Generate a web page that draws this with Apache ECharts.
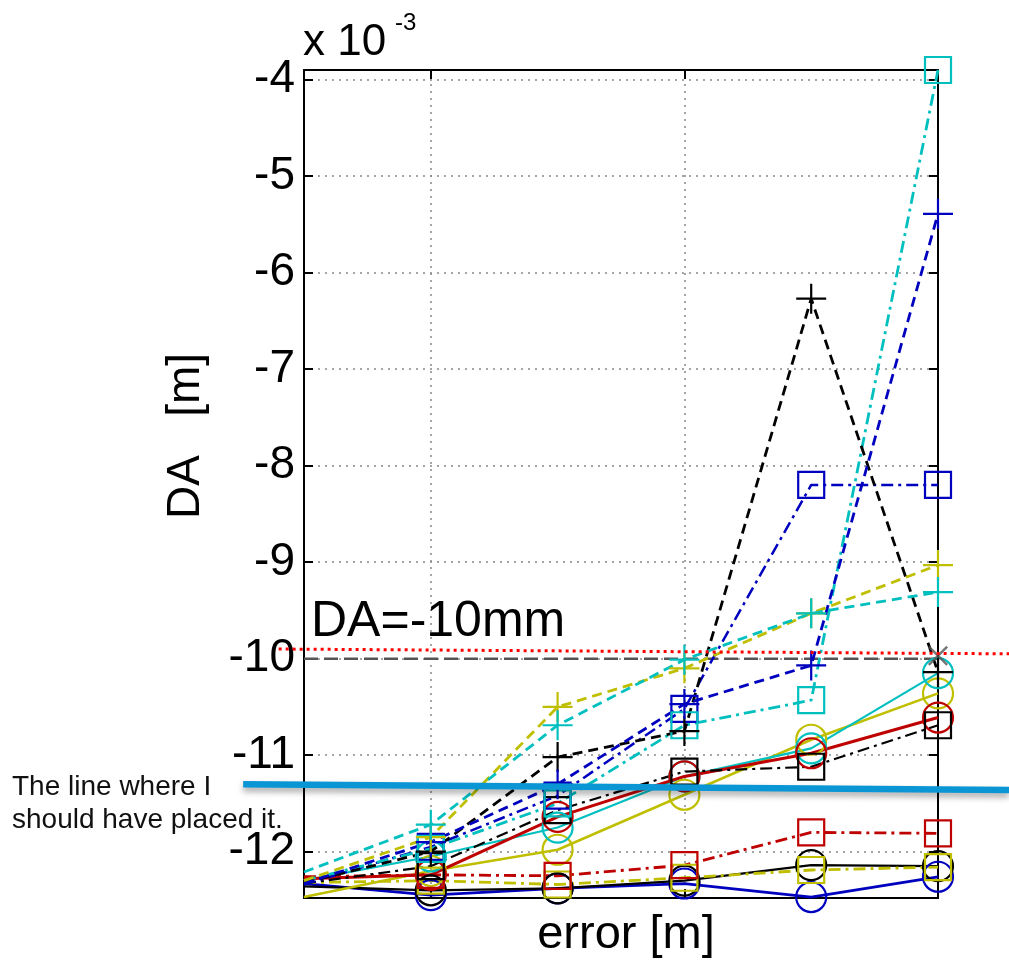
<!DOCTYPE html>
<html>
<head>
<meta charset="utf-8">
<script src="https://cdn.jsdelivr.net/npm/echarts@6/dist/echarts.min.js"></script>
<style>
  html, body { margin: 0; padding: 0; background: #fff; }
  #chart { width: 1009px; height: 960px; }
</style>
</head>
<body>
<div id="chart"></div>
<script>
// x positions (the first one sits on the left edge of the box)
const xCategories = ['0', '1', '2', '3', '4', '5'];
const yMin = -12.48;
const yMax = -3.9;

// solid lines, circle markers
const blueCircle  = [-12.33, -12.45, -12.38, -12.33, -12.47, -12.26];
const blackCircle = [-12.36, -12.40, -12.38, -12.30, -12.14, -12.15];
const redCircle   = [-12.28, -12.24, -11.64, -11.22, -10.98, -10.61];
const cyanCircle  = [-12.30, -12.05, -11.75, -11.22, -10.93, -10.15];
const oliveCircle = [-12.47, -12.20, -11.98, -11.41, -10.84, -10.36];

// dash-dot lines, square markers
const redSquare   = [-12.26, -12.24, -12.25, -12.14, -11.80, -11.81];
const oliveSquare = [-12.32, -12.30, -12.34, -12.27, -12.19, -12.16];
const blackSquare = [-12.33, -12.15, -11.57, -11.17, -11.12, -10.69];
const cyanSquare  = [-12.30, -11.97, -11.50, -10.69, -10.43, -3.90];
const blueSquare  = [-12.34, -11.95, -11.42, -10.52, -8.20, -8.20];

// dashed lines, plus markers
const blackPlus = [-12.32, -12.00, -11.02, -10.75, -6.27, -10.14];
const bluePlus  = [-12.33, -11.90, -11.30, -10.47, -10.07, -5.39];
const cyanPlus  = [-12.21, -11.72, -10.69, -10.01, -9.53, -9.31];
const olivePlus = [-12.30, -11.85, -10.50, -10.10, -9.53, -9.03];

// DA = -10 mm reference
const refLine = [-10, -10, -10, -10, -10, -10];
const refMark = [['5', -9.97]];

// overlays drawn on top of the figure (x in index units, y in 1e-3 m)
const redDotted = [[-0.2, -9.90], [5.56, -9.95]];
const blueTarget = [[-0.48, -11.30], [5.56, -11.36]];

const W = 1009;
const GRID = { left: 304, right: 71, top: 70, bottom: 62 };
const unit = (W - GRID.left - GRID.right) / (xCategories.length - 1);

const C = {
  blue: '#0000bf', black: '#000000', red: '#bf0000',
  cyan: '#00bfbf', olive: '#bfbf00'
};
const FONT = "'Liberation Sans', Arial, Helvetica, sans-serif";
const PLUS = 'path://M0,10L20,10M10,0L10,20';
const DASH = [10, 6];
const DASHDOT = [12, 5, 3, 5];

function hideFirst(vals) {
  return vals.map((v, i) => i === 0 ? { value: v, symbol: 'none' } : v);
}

function curve(vals, color, kind, width) {
  const marker = {
    circle: { symbol: 'circle', size: 30, type: 'solid' },
    square: { symbol: 'rect', size: 26, type: DASHDOT },
    plus: { symbol: PLUS, size: 30, type: DASH }
  }[kind];
  return {
    type: 'line',
    data: hideFirst(vals),
    symbol: marker.symbol,
    symbolSize: marker.size,
    showAllSymbol: true,
    clip: false,
    silent: true,
    z: 3,
    lineStyle: { color: color, width: width || 2.2, type: marker.type },
    itemStyle: { color: 'none', borderColor: color, borderWidth: 2.2 },
    emphasis: { disabled: true }
  };
}

const chart = echarts.init(document.getElementById('chart'));

const everyOther = (i) => i === 1 || i === 3;
const boxLine = { lineStyle: { color: '#000', width: 2 } };
const tick = { show: true, inside: true, length: 9, lineStyle: { color: '#000', width: 2 } };
const dotted = { color: '#888', width: 1.5, type: [2, 5] };

chart.setOption({
  animation: false,
  backgroundColor: '#fff',
  grid: [
    Object.assign({ outerBoundsMode: 'none' }, GRID),
    { left: 0, right: 0, top: GRID.top, bottom: GRID.bottom, outerBoundsMode: 'none' }
  ],
  xAxis: [
    {
      type: 'category', data: xCategories, boundaryGap: false,
      axisLine: boxLine,
      axisTick: Object.assign({ interval: everyOther }, tick),
      axisLabel: { show: false },
      splitLine: { show: true, interval: everyOther, lineStyle: dotted }
    },
    {
      type: 'category', data: xCategories, boundaryGap: false, position: 'top',
      axisLine: boxLine,
      axisTick: Object.assign({ interval: everyOther }, tick),
      axisLabel: { show: false },
      splitLine: { show: false }
    },
    {
      type: 'value', gridIndex: 1, show: false,
      min: -GRID.left / unit, max: xCategories.length - 1 + GRID.right / unit
    }
  ],
  yAxis: [
    {
      type: 'value', min: yMin, max: yMax, splitNumber: 9,
      minInterval: 1, maxInterval: 1,
      axisLine: Object.assign({ show: true }, boxLine),
      axisTick: tick,
      axisLabel: { fontFamily: FONT, fontSize: 46, color: '#000', margin: 9,
        showMinLabel: false, showMaxLabel: false,
        formatter: (v) => String(Math.round(v)) },
      splitLine: { show: true, lineStyle: dotted }
    },
    {
      type: 'value', min: yMin, max: yMax, splitNumber: 9, position: 'right',
      minInterval: 1, maxInterval: 1,
      axisLine: Object.assign({ show: true }, boxLine),
      axisTick: tick,
      axisLabel: { show: false },
      splitLine: { show: false }
    },
    { type: 'value', gridIndex: 1, show: false, min: yMin, max: yMax }
  ],
  graphic: [
    { type: 'text', left: 303, top: 21, z: 10,
      style: { text: 'x 10', font: '44px ' + FONT, fill: '#000' } },
    { type: 'text', left: 395, top: 11, z: 10,
      style: { text: '-3', font: '24px ' + FONT, fill: '#000' } },
    { type: 'text', x: 186, y: 436, rotation: Math.PI / 2, z: 10,
      style: { text: 'DA   [m]', font: '46px ' + FONT, fill: '#000',
        align: 'center', verticalAlign: 'middle' } },
    { type: 'text', x: 626, y: 935, z: 10,
      style: { text: 'error [m]', font: '47px ' + FONT, fill: '#000',
        align: 'center', verticalAlign: 'middle' } },
    { type: 'text', left: 311, top: 597, z: 10,
      style: { text: 'DA=-10mm', font: '50px ' + FONT, fill: '#000' } },
    { type: 'text', left: 12, top: 771, z: 10,
      style: { text: 'The line where I\nshould have placed it.', font: '28px ' + FONT,
        lineHeight: 33, fill: '#111' } }
  ],
  series: [
    {
      type: 'line', data: refLine, symbol: 'none', silent: true, z: 2,
      lineStyle: { color: '#555', width: 2.5, type: [14, 6] }
    },
    {
      type: 'scatter', data: refMark, symbol: PLUS, symbolSize: 26, symbolRotate: 45,
      silent: true, z: 4,
      itemStyle: { color: 'none', borderColor: '#555', borderWidth: 2.5 }
    },
    curve(blueCircle, C.blue, 'circle', 2.8),
    curve(blackCircle, C.black, 'circle'),
    curve(oliveCircle, C.olive, 'circle', 2.5),
    curve(cyanCircle, C.cyan, 'circle'),
    curve(redCircle, C.red, 'circle', 3),
    curve(oliveSquare, C.olive, 'square', 2.8),
    curve(redSquare, C.red, 'square', 2.8),
    curve(blackSquare, C.black, 'square'),
    curve(blueSquare, C.blue, 'square', 2.5),
    curve(cyanSquare, C.cyan, 'square', 2.8),
    curve(blackPlus, C.black, 'plus', 2.8),
    curve(bluePlus, C.blue, 'plus', 2.8),
    curve(olivePlus, C.olive, 'plus', 2.8),
    curve(cyanPlus, C.cyan, 'plus', 2.8),
    {
      type: 'line', xAxisIndex: 2, yAxisIndex: 2, data: redDotted, symbol: 'none',
      clip: false, silent: true, z: 6,
      lineStyle: { color: '#ff0000', width: 3, type: [3, 4] }
    },
    {
      type: 'line', xAxisIndex: 2, yAxisIndex: 2, data: blueTarget, symbol: 'none',
      clip: false, silent: true, z: 7,
      lineStyle: { color: '#0a96d4', width: 6.5, shadowColor: 'rgba(0,0,0,0.35)',
        shadowBlur: 6, shadowOffsetY: 4 }
    }
  ]
});
</script>
</body>
</html>
